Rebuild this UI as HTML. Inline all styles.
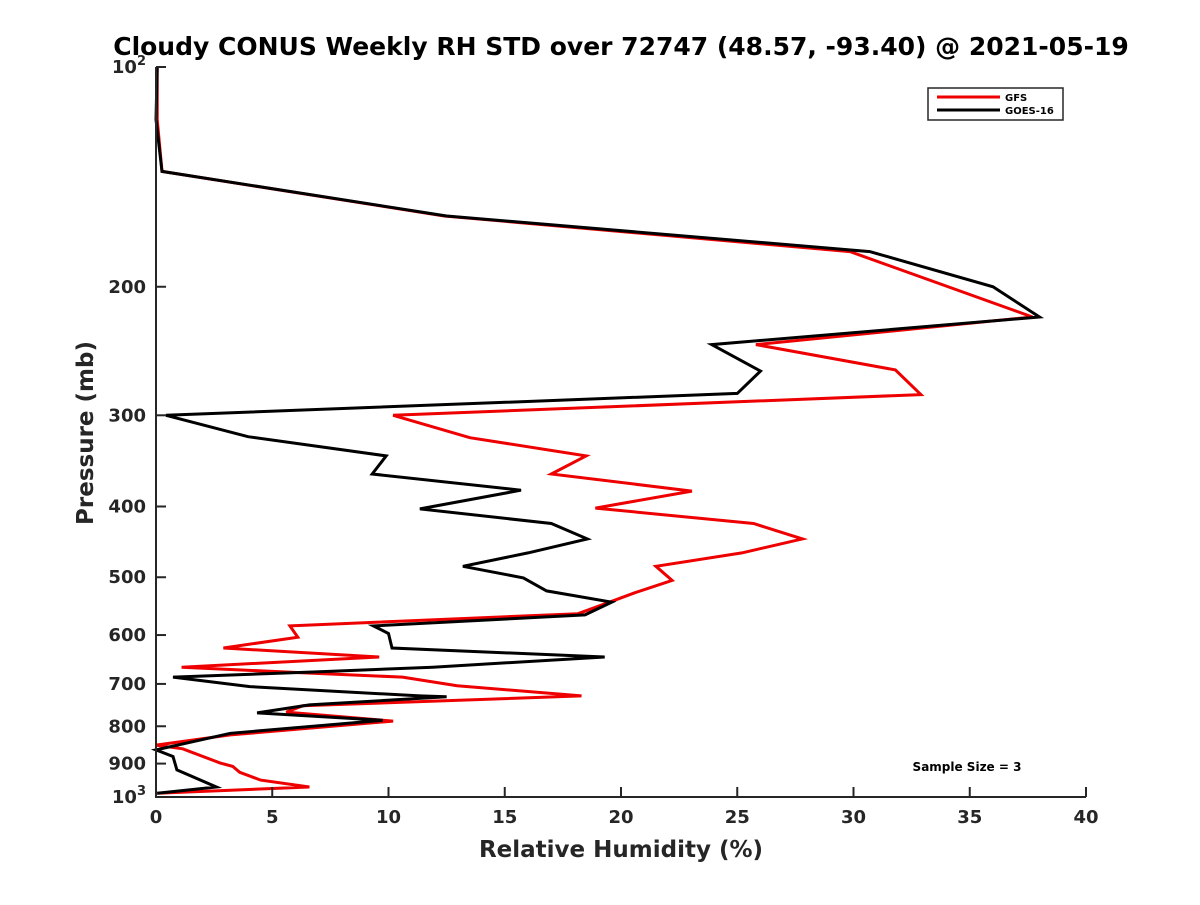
<!DOCTYPE html>
<html><head><meta charset="utf-8"><style>
body{margin:0;background:#fff}
svg text{font-family:"DejaVu Sans","Liberation Sans",sans-serif;font-weight:bold;fill:#262626}
</style></head><body>
<svg id="chart" width="1200" height="900" xmlns="http://www.w3.org/2000/svg">
<rect width="1200" height="900" fill="#fff"/>
<text x="621" y="55" text-anchor="middle" font-size="25" style="fill:#000">Cloudy CONUS Weekly RH STD over 72747 (48.57, -93.40) @ 2021-05-19</text>
<g id="plot"></g>
<text x="621" y="857" text-anchor="middle" font-size="23">Relative Humidity (%)</text>
<text transform="translate(93,433) rotate(-90)" text-anchor="middle" font-size="23">Pressure (mb)</text>
<g>
<rect x="928" y="88" width="135" height="32" fill="#fff" stroke="#262626" stroke-width="1.5"/>
<line x1="937" y1="97" x2="1000" y2="97" stroke="#e00" stroke-width="3"/>
<text x="1005" y="101" font-size="10" style="fill:#000">GFS</text>
<line x1="937" y1="110" x2="1000" y2="110" stroke="#000" stroke-width="3"/>
<text x="1005" y="114" font-size="10" style="fill:#000">GOES-16</text>
</g>
<text x="967" y="771" text-anchor="middle" font-size="12" style="fill:#000">Sample Size = 3</text>
</svg>
<script>
const xTicks=[0,5,10,15,20,25,30,35,40];
const yTicks=[100,200,300,400,500,600,700,800,900,1000];
const yTickLabels=["10²","200","300","400","500","600","700","800","900","10³"];
const gfsP=[100,118,139,160,179,220,240,260,281,300,322,341,361,381,402,422,443,463,483,505,525,541,561,583,604,625,643,664,677,685,704,727,750,765,787,822,849,859,898,908,925,948,969,988];
const gfsRH=[0.05,0.05,0.26,12.4,29.85,37.7,25.8,31.8,32.9,10.2,13.5,18.5,17.0,23.05,18.9,25.7,27.8,25.2,21.5,22.2,20.6,19.5,18.15,5.76,6.1,2.9,9.6,1.1,6.75,10.6,12.95,18.3,6.3,5.6,10.2,3.2,0.0,1.15,2.75,3.3,3.6,4.5,6.6,0.05];
const goesP=[100,118,139,160,179,200,220,240,261,280,300,321,341,361,380,403,422,443,463,483,501,522,541,563,583,597,625,643,664,674,685,706,727,729,748,767,785,818,862,880,918,969,988];
const goesRH=[0.05,0.0,0.26,12.5,30.7,36.0,38.0,23.9,26.0,25.0,0.43,3.96,9.9,9.3,15.7,11.35,17.0,18.55,16.0,13.2,15.8,16.8,19.6,18.45,9.35,10.0,10.15,19.3,11.9,6.9,0.73,4.04,11.35,12.5,6.6,4.35,9.75,3.2,0.0,0.73,0.9,2.6,0.05];
const L=156,R=1086,T=67,B=797;
const xs=v=>L+(v-0)/(40-0)*(R-L);
const ys=p=>T+Math.log10(p/100)*(B-T);
const NS="http://www.w3.org/2000/svg";
const g=document.getElementById('plot');
function mk(tag,attrs){const e=document.createElementNS(NS,tag);for(const k in attrs)e.setAttribute(k,attrs[k]);g.appendChild(e);return e;}
function line(pArr,rArr,color,name){
  const pts=pArr.map((p,i)=>xs(rArr[i]).toFixed(1)+','+ys(p).toFixed(1)).join(' ');
  const e=mk('polyline',{points:pts,fill:'none',stroke:color,'stroke-width':3,'stroke-linejoin':'miter'});
  
  
}
line(gfsP,gfsRH,'#e00','gfs-line');
line(goesP,goesRH,'#000','goes16-line');
const ax=mk('path',{d:`M${L},${T} L${L},${B} L${R},${B}`,fill:'none',stroke:'#262626','stroke-width':2});


xTicks.forEach(v=>{
  const x=xs(v);
  const t=mk('line',{x1:x,y1:B,x2:x,y2:B-10,stroke:'#262626','stroke-width':2});
  
  
  const tx=mk('text',{x:x,y:B+26,'text-anchor':'middle','font-size':18});
  tx.textContent=v;
  
  
});
yTicks.forEach((p,i)=>{
  const y=ys(p);
  const t=mk('line',{x1:L,y1:y,x2:L+10,y2:y,stroke:'#262626','stroke-width':2});
  
  
  const tx=mk('text',{x:L-10,y:y+6,'text-anchor':'end','font-size':18});
  const lab=yTickLabels[i];
  if(lab.startsWith('10')&&lab.length===3){
    tx.textContent='10';
    const s=document.createElementNS(NS,'tspan');s.setAttribute('dy','-8');s.setAttribute('font-size','13');s.textContent=lab==='10²'?'2':'3';tx.appendChild(s);
  } else tx.textContent=lab;
  
  
});
</script>
</body></html>
